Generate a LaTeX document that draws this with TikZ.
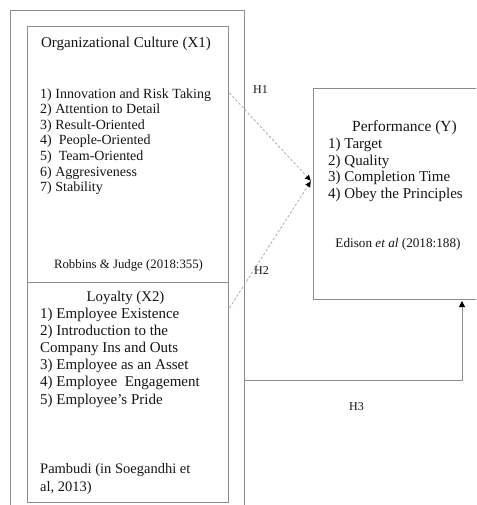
\documentclass[tikz,border=0pt]{standalone}
\usepackage{fontspec}
\setmainfont{Liberation Serif}
\usetikzlibrary{arrows.meta}
\definecolor{ink}{HTML}{141414}
\definecolor{framegray}{HTML}{8C8C8C}
\definecolor{dashgray}{HTML}{ABABAB}
\begin{document}
\begin{tikzpicture}[x=1pt,y=-1pt,
  boxframe/.style={draw=framegray, line width=1.4pt, inner sep=0pt, anchor=north west},
  txt/.style={text=ink, inner sep=0pt, anchor=base west},
  ctxt/.style={text=ink, inner sep=0pt, anchor=base},
  hyp/.style={draw=dashgray, line width=0.8pt, dash pattern=on 2.5pt off 2pt,
              -{Latex[length=6pt,width=6pt,color=black]}},
  direct/.style={draw=framegray, line width=1pt, -{Triangle[length=6pt,width=6pt,color=black]}}]
\useasboundingbox (0,0) rectangle (476,505);
\clip (0,0) rectangle (476,505);

% frames
\node[boxframe, minimum width=234pt, minimum height=520pt] (outer) at (10,10) {};
\node[boxframe, minimum width=201pt, minimum height=256pt] (culture) at (27,26) {};
\node[boxframe, minimum width=201pt, minimum height=220pt] (loyalty) at (27,282) {};
\node[boxframe, minimum width=200pt, minimum height=211pt] (perf) at (313,88) {};

% organizational culture
\node[ctxt, font=\fontsize{15}{17}\selectfont] (cultureT) at (126,47.5) {Organizational Culture (X1)};
\foreach \t [count=\i] in {1) Innovation and Risk Taking, 2) Attention to Detail,
    3) Result-Oriented, 4)\ \ People-Oriented, 5)\ \ Team-Oriented, 6) Aggresiveness, 7) Stability}
  \node[txt, font=\fontsize{14}{15.5}\selectfont] (culture-\i) at (40,{98.5+15.5*(\i-1)}) {\t};
\node[ctxt, font=\fontsize{12.8}{15}\selectfont] (cultureR) at (128.5,268.5) {Robbins \& Judge (2018:355)};

% loyalty
\node[ctxt, font=\fontsize{14.8}{17}\selectfont] (loyaltyT) at (125.5,301.5) {Loyalty (X2)};
\foreach \t [count=\i] in {1) Employee Existence, 2) Introduction to the,
    Company Ins and Outs, 3) Employee as an Asset, 4) Employee\ \ Engagement, 5) Employee’s Pride}
  \node[txt, font=\fontsize{15}{17}\selectfont] (loyalty-\i) at (40,{318.5+17.1*(\i-1)}) {\t};
\node[txt, font=\fontsize{14.5}{18}\selectfont] (loyaltyR1) at (40,473.3) {Pambudi (in Soegandhi et};
\node[txt, font=\fontsize{14.5}{18}\selectfont] (loyaltyR2) at (40,491.5) {al, 2013)};

% performance
\node[ctxt, font=\fontsize{15.5}{17}\selectfont] (perfT) at (404.5,131.7) {Performance (Y)};
\foreach \t [count=\i] in {1) Target, 2) Quality, 3) Completion Time, 4) Obey the Principles}
  \node[txt, font=\fontsize{15}{16.7}\selectfont] (perf-\i) at (328,{148.3+16.7*(\i-1)}) {\t};
\node[ctxt, font=\fontsize{13.2}{15}\selectfont] (perfR) at (398,247.3) {Edison \textit{et al} (2018:188)};

% hypotheses
\coordinate (h1from) at (culture.east |- 0,93);
\coordinate (h2from) at (loyalty.east |- 0,308);
\coordinate (target) at (311,181);
\draw[hyp] (h1from) -- (target);
\draw[hyp] (h2from) -- (target);
\coordinate (h3from) at (outer.east |- 0,380);
\coordinate (h3to) at (462,301);
\draw[direct] (h3from) -| (h3to);

\node[txt, font=\fontsize{12}{14}\selectfont] (h1) at (253,93.3) {H1};
\node[txt, font=\fontsize{12}{14}\selectfont] (h2) at (254,274) {H2};
\node[txt, font=\fontsize{12}{14}\selectfont] (h3) at (349,410) {H3};
\end{tikzpicture}
\end{document}
